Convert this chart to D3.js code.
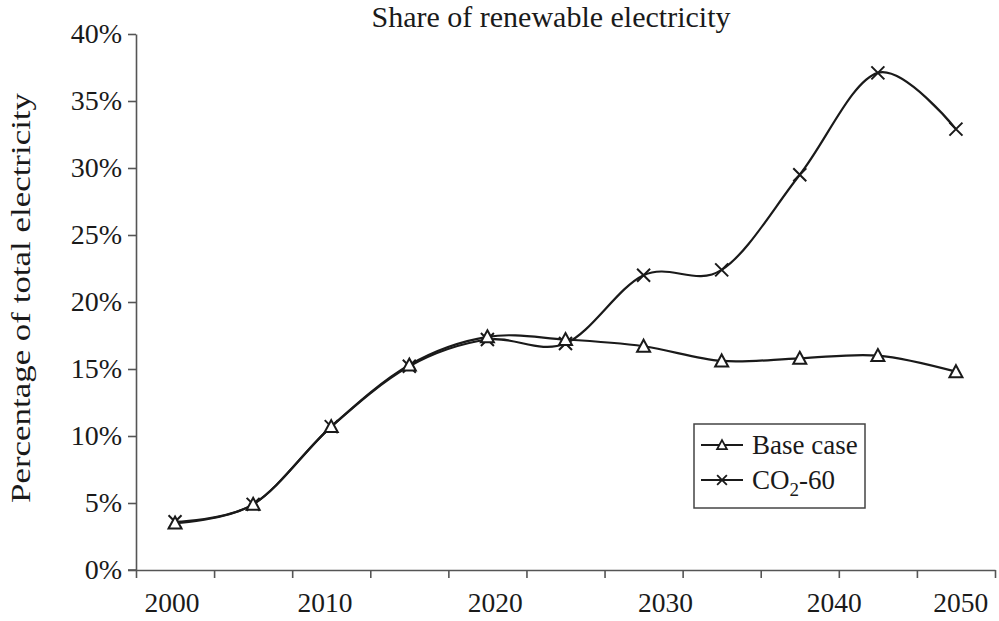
<!DOCTYPE html>
<html>
<head>
<meta charset="utf-8">
<script src="https://cdn.jsdelivr.net/npm/d3@7"></script>
<style>
  html, body { margin: 0; padding: 0; background: #fff; }
  svg { display: block; }
</style>
</head>
<body>
<svg id="chart" width="999" height="621"></svg>
<script>
// ---- data ----
const categories = ["2000","2005","2010","2015","2020","2025","2030","2035","2040","2045","2050"];
const baseCase  = [3.5, 4.9, 10.7, 15.3, 17.4, 17.2, 16.7, 15.6, 15.8, 16.0, 14.8];
const co2_60    = [3.6, 4.9, 10.7, 15.2, 17.2, 16.9, 22.0, 22.4, 29.5, 37.1, 32.9];
const yTicks = [0, 5, 10, 15, 20, 25, 30, 35, 40];
const xTickLabels = ["2000","2010","2020","2030","2040","2050"];
// label anchor positions, in category-index units
const xTickLabelAt = [-0.04, 1.92, 4.10, 6.28, 8.44, 10.06];

(function () {
// find serif fonts that really contain digit glyphs
function hasGlyphs(f, s) {
  const ctx = document.createElement("canvas").getContext("2d");
  ctx.font = "40px monospace";
  const w0 = ctx.measureText(s).width;
  ctx.font = `40px '${f}', monospace`;
  return Math.abs(ctx.measureText(s).width - w0) > 0.5;
}
const cands = ["Liberation Serif", "Times New Roman", "Tinos", "Nimbus Roman", "Noto Serif", "DejaVu Serif"];
const digitFont = cands.find(f => hasGlyphs(f, "0123456789%0000")) || "DejaVu Serif";
const FONT = `'Liberation Serif', '${digitFont}', serif`;

const svg = d3.select("#chart");
const mLeft = 136, mRight = 995, mTop = 34, mBottom = 570;

const x = d3.scaleLinear().domain([-0.5, categories.length - 0.5]).range([mLeft, mRight]);
const y = d3.scaleLinear().domain([0, 40]).range([mBottom, mTop]);

const axisColor = "#555";
const ink = "#1a1a1a";

function txt(sel, size) {
  return sel.attr("font-family", FONT).style("font-family", FONT)
    .attr("font-size", size).style("font-size", size + "px").attr("fill", ink);
}

// Title
txt(svg.append("text"), 30).attr("x", 551).attr("y", 27).attr("text-anchor", "middle")
  .text("Share of renewable electricity");

// Y axis label
txt(svg.append("text"), 27).attr("transform", "translate(30,298) rotate(-90)")
  .attr("text-anchor", "middle")
  .attr("textLength", 410).attr("lengthAdjust", "spacingAndGlyphs")
  .text("Percentage of total electricity");

// Y axis
const yAxis = d3.axisLeft(y).tickValues(yTicks).tickSize(8).tickSizeOuter(0)
  .tickFormat(d => d + "%");
const gy = svg.append("g").attr("transform", `translate(${mLeft},0)`).call(yAxis);
gy.attr("font-family", FONT);
gy.select(".domain").attr("stroke", axisColor).attr("stroke-width", 1.6);
gy.selectAll(".tick line").attr("stroke", axisColor).attr("stroke-width", 1.6);
txt(gy.selectAll(".tick text"), 28).attr("x", -14);

// X axis (category boundaries)
const boundaries = d3.range(categories.length + 1).map(i => i - 0.5);
const xAxis = d3.axisBottom(x).tickValues(boundaries).tickSize(8).tickSizeOuter(0).tickFormat("");
const gx = svg.append("g").attr("transform", `translate(0,${mBottom})`).call(xAxis);
gx.select(".domain").attr("stroke", axisColor).attr("stroke-width", 1.6);
gx.selectAll(".tick line").attr("stroke", axisColor).attr("stroke-width", 1.6);
svg.append("line").attr("x1", mLeft - 8).attr("x2", mLeft).attr("y1", y(0)).attr("y2", y(0))
  .attr("stroke", axisColor).attr("stroke-width", 1.6);

txt(svg.append("g").selectAll("text").data(xTickLabels).join("text"), 27.5)
  .attr("x", (d, i) => x(xTickLabelAt[i])).attr("y", 612)
  .attr("text-anchor", "middle").text(d => d);

// Lines
const line = d3.line().x((d, i) => x(i)).y(d => y(d)).curve(d3.curveCardinal.tension(0));

svg.append("path").datum(baseCase).attr("d", line)
  .attr("fill", "none").attr("stroke", ink).attr("stroke-width", 2.2);
svg.append("path").datum(co2_60).attr("d", line)
  .attr("fill", "none").attr("stroke", ink).attr("stroke-width", 2.2);

const triPath = "M0,-6.5L6.5,5.5L-6.5,5.5Z";
const crossPath = "M-6.5,-6.5L6.5,6.5M-6.5,6.5L6.5,-6.5";

svg.append("g").selectAll("path").data(co2_60).join("path")
  .attr("transform", (d, i) => `translate(${x(i)},${y(d)})`)
  .attr("d", crossPath).attr("fill", "none").attr("stroke", ink).attr("stroke-width", 2);

svg.append("g").selectAll("path").data(baseCase).join("path")
  .attr("transform", (d, i) => `translate(${x(i)},${y(d)})`)
  .attr("d", triPath).attr("fill", "#fff").attr("stroke", ink).attr("stroke-width", 2);

// Legend
const lg = svg.append("g");
lg.append("rect").attr("x", 694).attr("y", 424).attr("width", 171).attr("height", 84)
  .attr("fill", "#fff").attr("stroke", "#444").attr("stroke-width", 1.5);
const rows = [{mark: triPath, fill: "#fff", yy: 445},
              {mark: crossPath, fill: "none", yy: 480}];
rows.forEach(r => {
  lg.append("line").attr("x1", 701).attr("x2", 743).attr("y1", r.yy).attr("y2", r.yy)
    .attr("stroke", ink).attr("stroke-width", 2);
  lg.append("path").attr("transform", `translate(722,${r.yy}) scale(0.75)`)
    .attr("d", r.mark).attr("fill", r.fill).attr("stroke", ink).attr("stroke-width", 2.4);
});
txt(lg.append("text"), 27).attr("x", 752).attr("y", 454).text("Base case");
const t2 = txt(lg.append("text"), 27).attr("x", 752).attr("y", 489);
t2.append("tspan").text("CO");
t2.append("tspan").attr("dy", 7).attr("font-size", 19).style("font-size", "19px").text("2");
t2.append("tspan").attr("dy", -7).text("-60");
})();
</script>
</body>
</html>
